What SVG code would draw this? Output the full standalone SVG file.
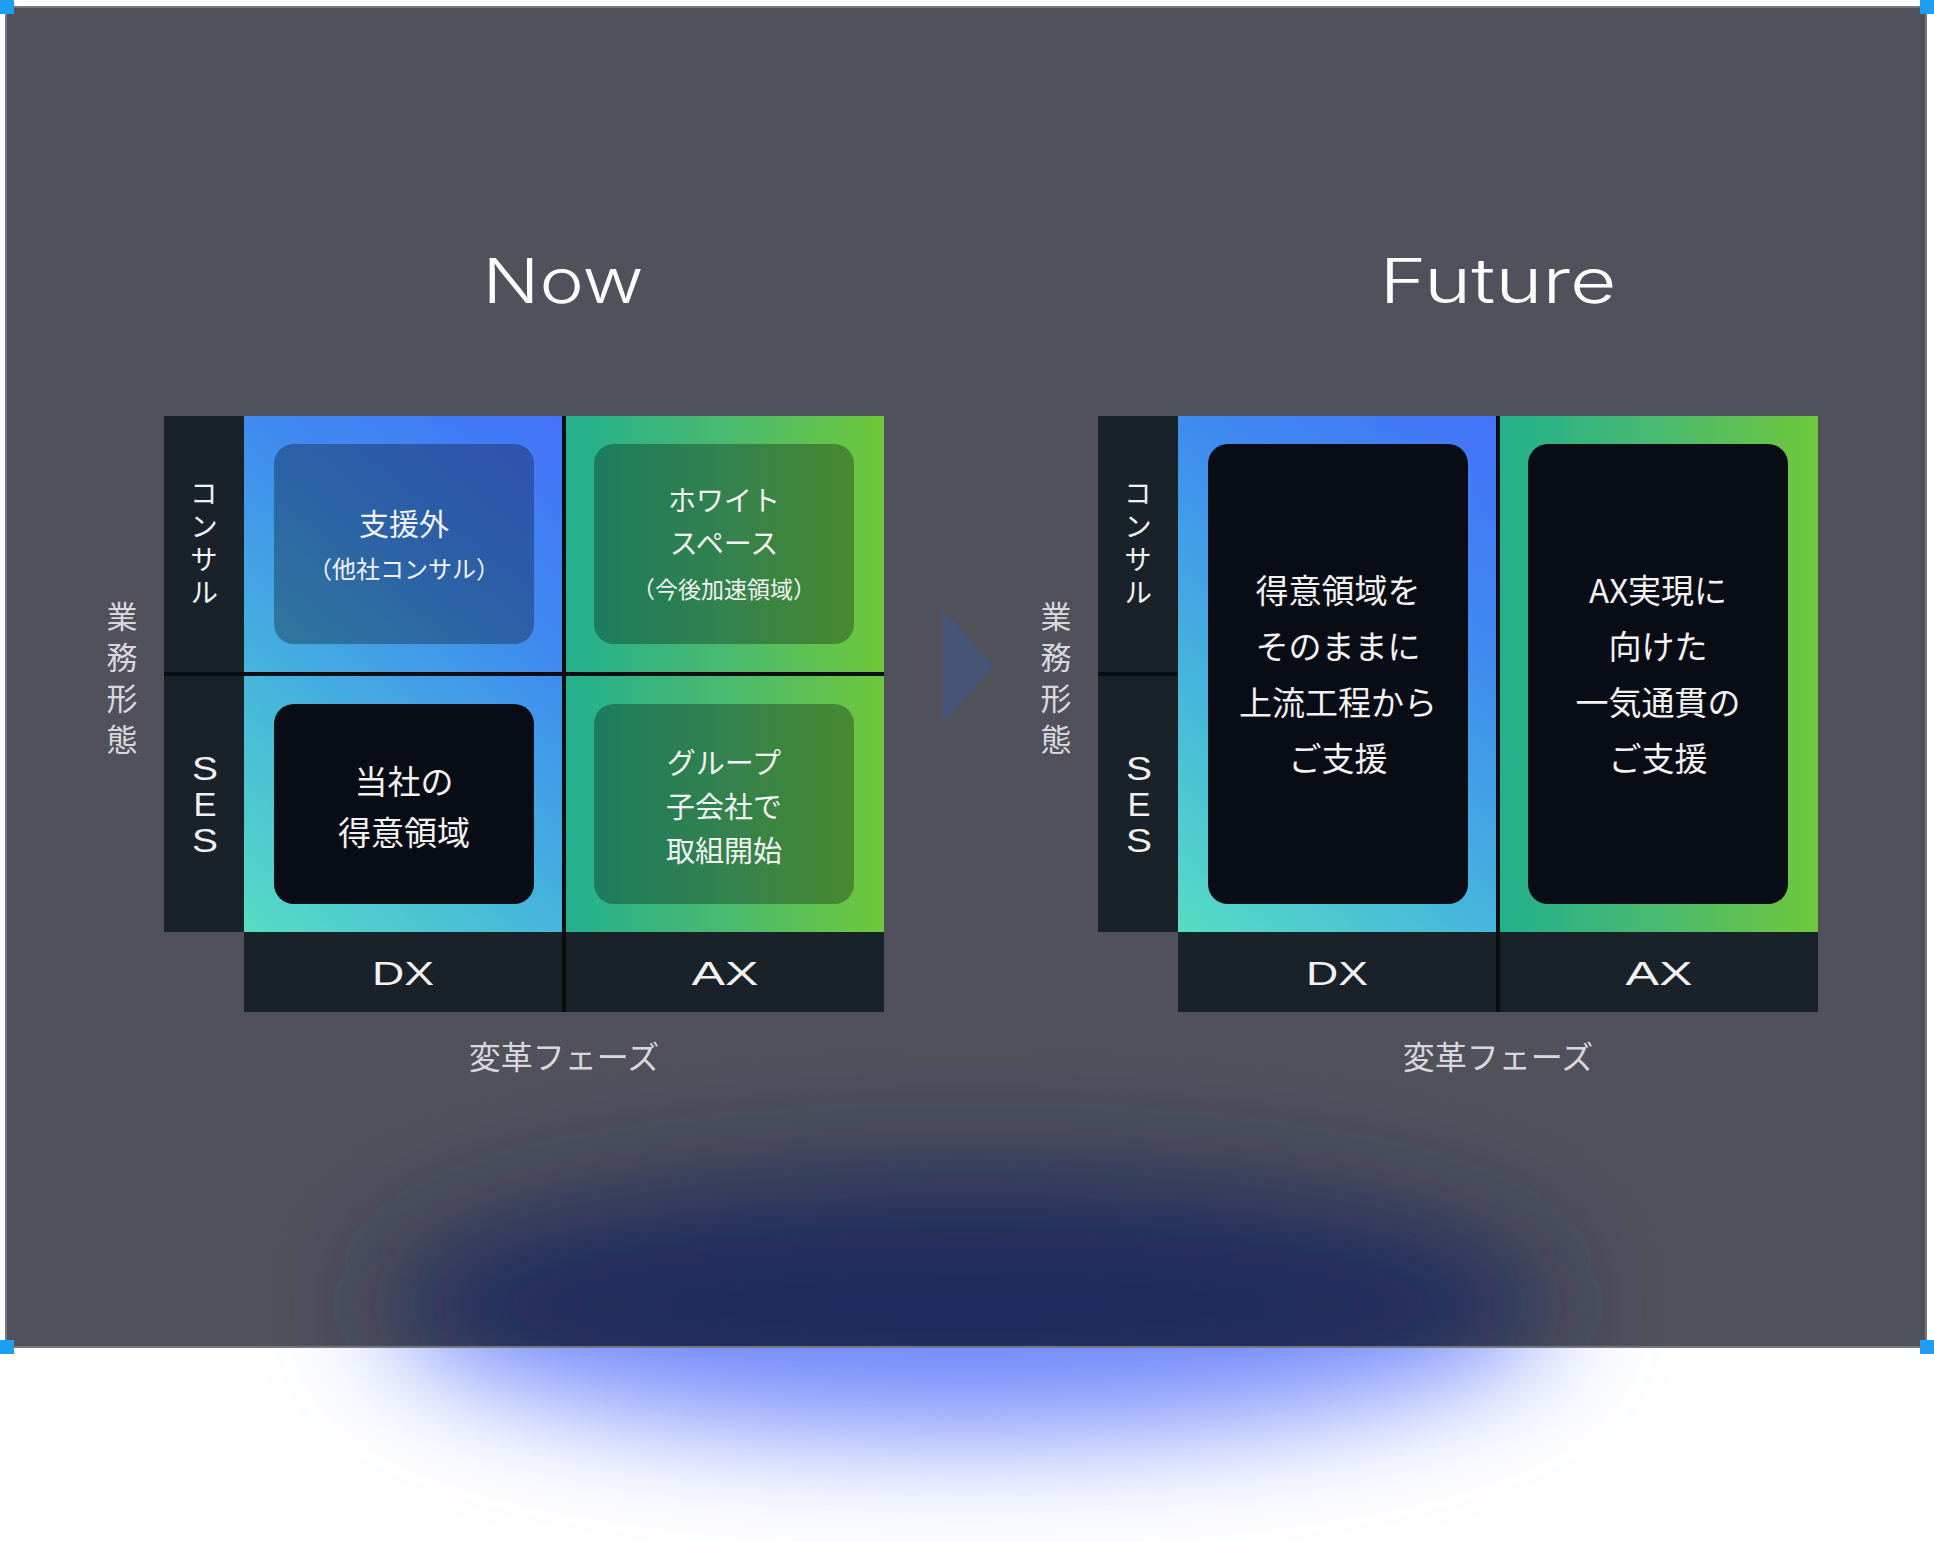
<svg xmlns="http://www.w3.org/2000/svg" width="1934" height="1542" viewBox="0 0 1934 1542">
<defs>
<style>
.jp{font-family:"Noto Sans CJK JP","Noto Sans",sans-serif;fill:#f2f2f2;text-anchor:middle}
.vt{font-family:"Noto Sans CJK JP","Noto Sans",sans-serif;fill:#f2f2f2;text-anchor:middle;writing-mode:vertical-rl;letter-spacing:5px}
.lat{font-family:"Liberation Sans",Arial,sans-serif;fill:#f2f2f2;text-anchor:middle}
.title{font-family:Inter,"Noto Sans",sans-serif;font-weight:300;fill:#ffffff;text-anchor:middle;font-size:62px}
.axis{font-family:"Noto Sans CJK JP","Noto Sans",sans-serif;fill:#d8d8dc;text-anchor:middle}
.dark{fill:#1a2229}
.div{fill:#0a0d12}
.soft{fill:#000000;fill-opacity:0.3}
.black{fill:#080c14}
.handle{fill:#1e9ff2}
</style>
<linearGradient id="gDX" gradientUnits="userSpaceOnUse" x1="244" y1="932" x2="621" y2="464">
<stop offset="0" stop-color="#57ddc3"/><stop offset="0.33" stop-color="#46b6dc"/><stop offset="0.67" stop-color="#3f8bef"/><stop offset="1" stop-color="#4472fa"/>
</linearGradient>
<linearGradient id="gDX2" gradientUnits="userSpaceOnUse" x1="1178" y1="932" x2="1555" y2="464">
<stop offset="0" stop-color="#57ddc3"/><stop offset="0.33" stop-color="#46b6dc"/><stop offset="0.67" stop-color="#3f8bef"/><stop offset="1" stop-color="#4472fa"/>
</linearGradient>
<linearGradient id="gAX" gradientUnits="userSpaceOnUse" x1="566" y1="0" x2="884" y2="0">
<stop offset="0" stop-color="#22b08c"/><stop offset="0.5" stop-color="#4aba70"/><stop offset="1" stop-color="#6ec83a"/>
</linearGradient>
<linearGradient id="gAX2" gradientUnits="userSpaceOnUse" x1="1500" y1="0" x2="1818" y2="0">
<stop offset="0" stop-color="#22b08c"/><stop offset="0.5" stop-color="#4aba70"/><stop offset="1" stop-color="#6ec83a"/>
</linearGradient>
<filter id="blur" x="-30%" y="-120%" width="160%" height="340%">
<feGaussianBlur stdDeviation="58"/>
</filter>
<clipPath id="inFrame"><rect x="7" y="8" width="1918" height="1338"/></clipPath>
<clipPath id="outFrame"><rect x="0" y="1347" width="1934" height="195"/></clipPath>
</defs>

<rect x="0" y="0" width="1934" height="1542" fill="#ffffff"/>
<g id="frame">
<rect x="6" y="7" width="1920" height="1340" fill="#51515c"/>
</g>
<g id="glow">
<ellipse cx="968" cy="1305" rx="585" ry="128" fill="#1f2a5d" filter="url(#blur)" clip-path="url(#inFrame)"/>
<ellipse cx="968" cy="1305" rx="585" ry="128" fill="#6f87fb" filter="url(#blur)" clip-path="url(#outFrame)"/>
</g>
<rect x="6" y="7" width="1920" height="1340" fill="none" stroke="#76767e" stroke-width="2"/>
<g id="handles">
<rect class="handle" x="0" y="0" width="14" height="14"/>
<rect class="handle" x="1920" y="0" width="14" height="14"/>
<rect class="handle" x="0" y="1340" width="14" height="14"/>
<rect class="handle" x="1920" y="1340" width="14" height="14"/>
</g>

<g id="title-now"><text class="title" x="563" y="303" textLength="161" lengthAdjust="spacingAndGlyphs">Now</text></g>
<g id="title-future"><text class="title" x="1498" y="303" textLength="237" lengthAdjust="spacingAndGlyphs">Future</text></g>

<!-- NOW grid -->
<g id="now-grid">
<rect class="dark" x="164" y="416" width="80" height="516"/>
<rect class="dark" x="244" y="932" width="640" height="80"/>
<rect x="244" y="416" width="318" height="516" fill="url(#gDX)"/>
<rect x="566" y="416" width="318" height="516" fill="url(#gAX)"/>
<rect class="div" x="562" y="416" width="4" height="596"/>
<rect class="div" x="164" y="672" width="720" height="4"/>
<text class="vt" font-size="28" x="204" y="545">コンサル</text>
<text class="lat" font-size="33" x="205" y="780" textLength="26" lengthAdjust="spacingAndGlyphs">S</text>
<text class="lat" font-size="33" x="205" y="816" textLength="23" lengthAdjust="spacingAndGlyphs">E</text>
<text class="lat" font-size="33" x="205" y="852" textLength="26" lengthAdjust="spacingAndGlyphs">S</text>
<text class="lat" font-size="34" x="403" y="985" textLength="62" lengthAdjust="spacingAndGlyphs">DX</text>
<text class="lat" font-size="34" x="725" y="985" textLength="67" lengthAdjust="spacingAndGlyphs">AX</text>
<text class="axis" font-size="31"><tspan x="122" y="628">業</tspan><tspan x="122" y="669">務</tspan><tspan x="122" y="710">形</tspan><tspan x="122" y="751">態</tspan></text>
<text class="axis" font-size="32" x="564" y="1069" fill="#ececee">変革フェーズ</text>
</g>
<g id="node-now-dx-consul">
<rect class="soft" x="274" y="444" width="260" height="200" rx="20"/>
<text class="jp" x="404" y="535" font-size="30">支援外</text>
<text class="jp" x="404" y="578" font-size="24">（他社コンサル）</text>
</g>
<g id="node-now-ax-consul">
<rect class="soft" x="594" y="444" width="260" height="200" rx="20"/>
<text class="jp" x="724" y="511" font-size="28">ホワイト</text>
<text class="jp" x="724" y="554" font-size="28">スペース</text>
<text class="jp" x="724" y="598" font-size="23">（今後加速領域）</text>
</g>
<g id="node-now-dx-ses">
<rect class="black" x="274" y="704" width="260" height="200" rx="20"/>
<text class="jp" x="404" y="794" font-size="33">当社の</text>
<text class="jp" x="404" y="845" font-size="33">得意領域</text>
</g>
<g id="node-now-ax-ses">
<rect class="soft" x="594" y="704" width="260" height="200" rx="20"/>
<text class="jp" x="724" y="774" font-size="29">グループ</text>
<text class="jp" x="724" y="818" font-size="29">子会社で</text>
<text class="jp" x="724" y="862" font-size="29">取組開始</text>
</g>

<!-- FUTURE grid -->
<g id="future-grid">
<rect class="dark" x="1098" y="416" width="80" height="516"/>
<rect class="dark" x="1178" y="932" width="640" height="80"/>
<rect x="1178" y="416" width="318" height="516" fill="url(#gDX2)"/>
<rect x="1500" y="416" width="318" height="516" fill="url(#gAX2)"/>
<rect class="div" x="1496" y="416" width="4" height="596"/>
<rect class="div" x="1098" y="672" width="80" height="4"/>
<text class="vt" font-size="28" x="1138" y="545">コンサル</text>
<text class="lat" font-size="33" x="1139" y="780" textLength="26" lengthAdjust="spacingAndGlyphs">S</text>
<text class="lat" font-size="33" x="1139" y="816" textLength="23" lengthAdjust="spacingAndGlyphs">E</text>
<text class="lat" font-size="33" x="1139" y="852" textLength="26" lengthAdjust="spacingAndGlyphs">S</text>
<text class="lat" font-size="34" x="1337" y="985" textLength="62" lengthAdjust="spacingAndGlyphs">DX</text>
<text class="lat" font-size="34" x="1659" y="985" textLength="67" lengthAdjust="spacingAndGlyphs">AX</text>
<text class="axis" font-size="31"><tspan x="1056" y="628">業</tspan><tspan x="1056" y="669">務</tspan><tspan x="1056" y="710">形</tspan><tspan x="1056" y="751">態</tspan></text>
<text class="axis" font-size="32" x="1498" y="1069" fill="#ececee">変革フェーズ</text>
</g>
<g id="node-future-dx">
<rect class="black" x="1208" y="444" width="260" height="460" rx="20"/>
<text class="jp" x="1338" y="603" font-size="33">得意領域を</text>
<text class="jp" x="1338" y="659" font-size="33">そのままに</text>
<text class="jp" x="1338" y="715" font-size="33">上流工程から</text>
<text class="jp" x="1338" y="771" font-size="33">ご支援</text>
</g>
<g id="node-future-ax">
<rect class="black" x="1528" y="444" width="260" height="460" rx="20"/>
<text class="jp" x="1658" y="603" font-size="33">AX実現に</text>
<text class="jp" x="1658" y="659" font-size="33">向けた</text>
<text class="jp" x="1658" y="715" font-size="33">一気通貫の</text>
<text class="jp" x="1658" y="771" font-size="33">ご支援</text>
</g>

<g id="connectors">
<polygon points="942,609 994,666 942,724" fill="#475577"/>
</g>
</svg>
